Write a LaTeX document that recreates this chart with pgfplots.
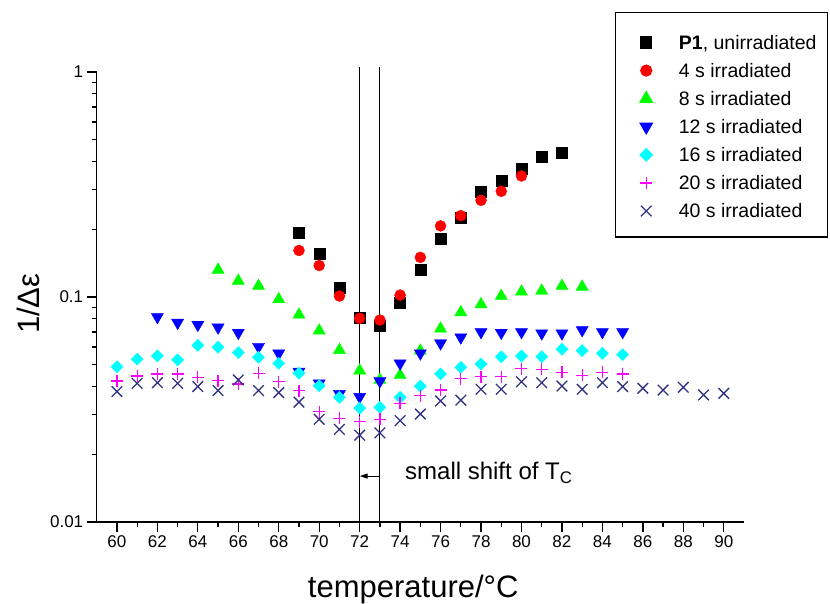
\documentclass[border=0pt]{standalone}
\usepackage{fontspec}
\setmainfont{Liberation Sans}
\usepackage{pgfplots}
\pgfplotsset{compat=1.18}
\usetikzlibrary{arrows.meta}
\definecolor{lgreen}{RGB}{0,255,0}
\definecolor{lcyan}{RGB}{0,255,255}
\definecolor{lmag}{RGB}{255,0,255}
\definecolor{navyx}{RGB}{50,50,130}
\pgfplotsset{basebox/.style={
  at={(0pt,0pt)},anchor=south west,
  scale only axis,width=647.3pt,height=450pt,
  xmin=59,xmax=91,ymin=0.01,ymax=1,
  axis lines=left,axis line style={-,line width=1.3pt},
  tick align=outside,
  tick style={black,line width=1.3pt}}}
\begin{document}
\begin{tikzpicture}
\path[use as bounding box] (-96.7pt,-82pt) rectangle (733.3pt,522pt);
% minor ticks of the log axis
\begin{semilogyaxis}[basebox,
  xtick=\empty,
  ytick={0.02,0.03,0.04,0.05,0.06,0.07,0.08,0.09,0.2,0.3,0.4,0.5,0.6,0.7,0.8,0.9},
  yticklabels={},major tick length=5pt]
\end{semilogyaxis}
\begin{semilogyaxis}[basebox,
  xtick={60,62,...,90},minor x tick num=1,
  ytick={0.01,0.1,1},yticklabels={0.01,0.1,1},
  major tick length=10pt,minor tick length=5pt,
  tick label style={font=\fontsize{17}{19}\selectfont},
  /pgf/number format/assume math mode=true,
  xlabel={temperature/°C},
  xlabel style={at={(rel axis cs:0.489,-0.1667)},anchor=base,font=\fontsize{31}{34}\selectfont},
  ylabel={1/Δε},
  ylabel style={at={(rel axis cs:-0.105,0.485)},anchor=center,font=\fontsize{31}{34}\selectfont},
  clip=false,
  legend cell align=left,
  legend image code/.code={%
    \path (-21pt,0pt) (30pt,0pt);
    \draw[#1] plot coordinates {(0pt,-2pt)};},
  legend style={at={(rel axis cs:0.8007,1.1333)},anchor=north west,
    draw=black,line width=1.2pt,inner xsep=9pt,inner ysep=17pt,row sep=6.4pt,
    font=\fontsize{19.5}{21}\selectfont,
    nodes={inner sep=2pt,text height=17.7pt,text depth=0pt}},
]
\addplot[only marks,mark=square*,black,mark size=5.5pt]
 coordinates {(69,0.194) (70,0.155) (71,0.110) (72,0.081) (73,0.0745) (74,0.0944)
  (75,0.132) (76,0.181) (77,0.226) (78,0.293) (79,0.330) (80,0.372) (81,0.420) (82,0.438)};
\addlegendentry{\textbf{P1}, unirradiated}
\addplot[only marks,mark=*,red,mark size=5.5pt]
 coordinates {(69,0.161) (70,0.138) (71,0.101) (72,0.0804) (73,0.079) (74,0.102)
  (75,0.150) (76,0.207) (77,0.230) (78,0.269) (79,0.295) (80,0.345)};
\addlegendentry{4 s irradiated}
\addplot[only marks,mark=triangle*,lgreen,mark size=7pt]
 coordinates {(65,0.132) (66,0.118) (67,0.112) (68,0.0977) (69,0.0834) (70,0.0709)
  (71,0.0581) (72,0.0471) (73,0.0428) (74,0.045) (75,0.0577) (76,0.0723) (77,0.0855)
  (78,0.0928) (79,0.101) (80,0.1056) (81,0.1066) (82,0.112) (83,0.111)};
\addlegendentry{8 s irradiated}
\addplot[only marks,mark=triangle*,blue,mark size=7pt,mark options={rotate=180}]
 coordinates {(62,0.0815) (63,0.0769) (64,0.0753) (65,0.0733) (66,0.0694) (67,0.0601)
  (68,0.0562) (69,0.0466) (70,0.0413) (71,0.0371) (72,0.0360) (73,0.0423) (74,0.0507)
  (75,0.0562) (76,0.0623) (77,0.0662) (78,0.0699) (79,0.0694) (80,0.0699) (81,0.069)
  (82,0.069) (83,0.0713) (84,0.0699) (85,0.0699)};
\addlegendentry{12 s irradiated}
\addplot[only marks,mark=square*,lcyan,mark size=4.3pt,mark options={rotate=45}]
 coordinates {(60,0.049) (61,0.0529) (62,0.0547) (63,0.0525) (64,0.061) (65,0.0598)
  (66,0.0566) (67,0.054) (68,0.0507) (69,0.0458) (70,0.0403) (71,0.0358) (72,0.0321)
  (73,0.0323) (74,0.0358) (75,0.0402) (76,0.0455) (77,0.0487) (78,0.0504) (79,0.0543)
  (80,0.0547) (81,0.0543) (82,0.0586) (83,0.0578) (84,0.0562) (85,0.0554)};
\addlegendentry{16 s irradiated}
\addplot[only marks,mark=+,lmag,mark size=6pt,line width=1.3pt]
 coordinates {(60,0.0423) (61,0.0446) (62,0.0455) (63,0.0455) (64,0.0440) (65,0.0425)
  (66,0.0411) (67,0.0458) (68,0.0420) (69,0.0383) (70,0.0309) (71,0.0289) (72,0.0279)
  (73,0.0286) (74,0.0337) (75,0.0364) (76,0.0386) (77,0.0434) (78,0.0443) (79,0.0443)
  (80,0.048) (81,0.0477) (82,0.0463) (83,0.0449) (84,0.0463) (85,0.0455)};
\addlegendentry{20 s irradiated}
\addplot[only marks,mark=x,navyx,mark size=7.5pt,line width=1.3pt]
 coordinates {(60,0.0380) (61,0.0413) (62,0.0416) (63,0.0413) (64,0.0400) (65,0.0384)
  (66,0.0428) (67,0.0384) (68,0.0376) (69,0.0341) (70,0.0286) (71,0.0258) (72,0.0243)
  (73,0.0249) (74,0.0282) (75,0.0302) (76,0.0345) (77,0.0348) (78,0.0389) (79,0.0389)
  (80,0.042) (81,0.0416) (82,0.0402) (83,0.0389) (84,0.0416) (85,0.0400) (86,0.0393)
  (87,0.0386) (88,0.0397) (89,0.0367) (90,0.0373)};
\addlegendentry{40 s irradiated}
\draw[line width=1pt] (axis cs:72,0.01) -- (axis cs:72,1.052);
\draw[line width=1pt] (axis cs:73,0.01) -- (axis cs:73,1.052);
\draw[line width=1pt,-{Triangle[length=8pt,width=5pt]}] (axis cs:73,0.0160) -- (axis cs:72,0.0160);
\node[anchor=base west,inner sep=0pt,font=\fontsize{24}{26}\selectfont]
  at (axis cs:74.24,0.0154) {small shift of T\textsubscript{C}};
\end{semilogyaxis}
\end{tikzpicture}
\end{document}
